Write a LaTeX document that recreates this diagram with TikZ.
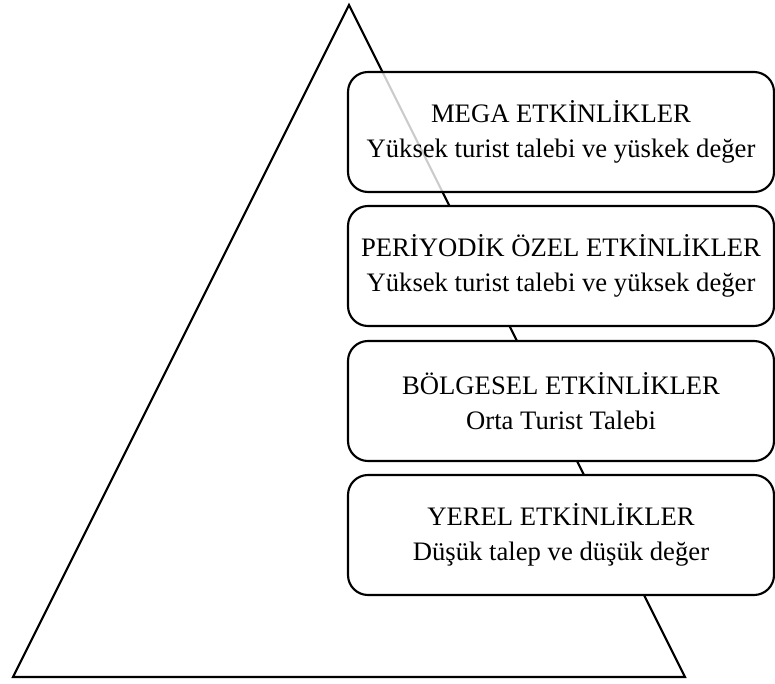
\documentclass[tikz,border=0pt]{standalone}
\usepackage{fontspec}
\setmainfont{Liberation Serif}
\usetikzlibrary{positioning}
\newcommand{\eventBox}[5]{%%
  \node[boxStyle,fill opacity=#5,text opacity=1] (#1) at (\boxx,#2) {#3\\#4};
}

\begin{document}
\begin{tikzpicture}[%%
  x=0.75pt,y=-0.75pt,%%
  triStyle/.style={line width=1.6pt,line join=miter},%%
  boxStyle/.style={draw,fill=white,line width=1.6pt,rounded corners=15pt,%%
    minimum width=319.5pt,minimum height=90pt,align=center,%%
    font=\fontsize{20}{26}\selectfont}
]
%%
\useasboundingbox (0,0) rectangle (775,684);
\pgfmathsetmacro{\boxx}{561}
%%
%% The pyramid.
\coordinate (apex) at (349,5);
\coordinate (baseL) at (13,677);
\coordinate (baseR) at (685,677);
\draw[triStyle] (apex) -- (baseL) -- (baseR) -- cycle;
%%
%% The levels, top to bottom.
\eventBox{mega}{132}{MEGA ETKİNLİKLER}{Yüksek turist talebi ve yüskek değer}{0.8}
\eventBox{periodic}{266}{PERİYODİK ÖZEL ETKİNLİKLER}{Yüksek turist talebi ve yüksek değer}{1}
\eventBox{regional}{401}{BÖLGESEL ETKİNLİKLER}{Orta Turist Talebi}{1}
\eventBox{local}{535}{YEREL ETKİNLİKLER}{Düşük talep ve düşük değer}{1}
\end{tikzpicture}
\end{document}
